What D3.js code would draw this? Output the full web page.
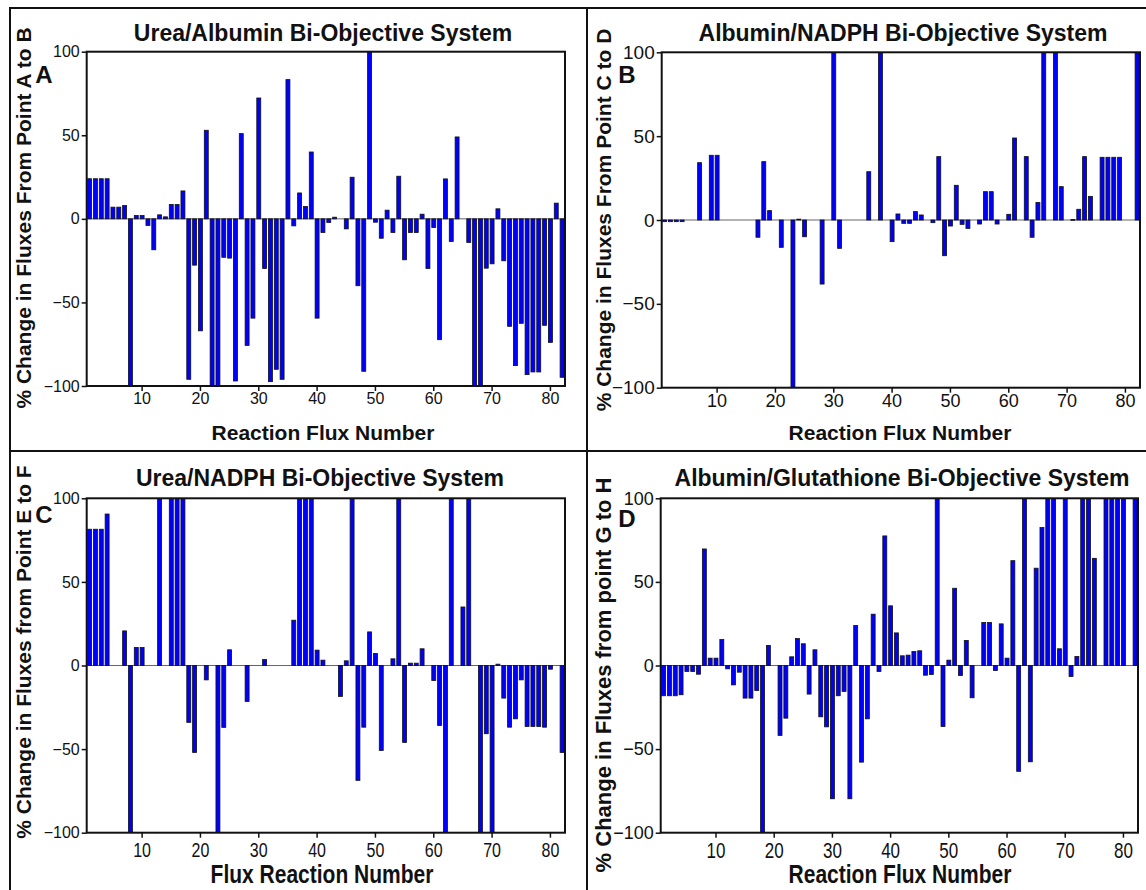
<!DOCTYPE html>
<html>
<head>
<meta charset="utf-8">
<script src="https://cdn.jsdelivr.net/npm/d3@7"></script>
<style>
  html, body { margin: 0; padding: 0; background: #fff; }
  svg { display: block; font-family: Arial, "Liberation Sans", sans-serif; }
</style>
</head>
<body>
<svg id="chart" width="1146" height="890"></svg>
<script>
// ---------------- data ----------------
const fluxNumbers = d3.range(1, 83);
const xTickValues = [10, 20, 30, 40, 50, 60, 70, 80];
const yTickValues = [-100, -50, 0, 50, 100];

const panelLetters = ["A", "B", "C", "D"];
const panelTitles = [
  "Urea/Albumin Bi-Objective System",
  "Albumin/NADPH Bi-Objective System",
  "Urea/NADPH Bi-Objective System",
  "Albumin/Glutathione Bi-Objective System"
];
const yAxisTitles = [
  "% Change in Fluxes From Point A to B",
  "% Change in Fluxes From Point C to D",
  "% Change in Fluxes from Point E to F",
  "% Change in Fluxes from point G to H"
];
const xAxisTitles = [
  "Reaction Flux Number",
  "Reaction Flux Number",
  "Flux Reaction Number",
  "Reaction Flux Number"
];

const valuesA = [
  24, 24, 24, 24, 7, 7, 8, -100, 2, 2,
  -4, -18.5, 2.4, 1.2, 8.6, 8.6, 16.7, -96, -27.7, -67,
  53, -100, -100, -23, -23.5, -97, 51, -75.7, -59.4, 72.3,
  -29.7, -97.4, -90, -96, 83.3, -4.2, 15.5, 7.4, 40, -59.4,
  -8.2, -2.2, 1, 0, -6, 24.9, -40, -91.2, 100, -2,
  -11.6, 5.2, -8.2, 25.5, -24.5, -8.2, -8.2, 2.8, -29.7, -5.2,
  -72.3, 23.9, -13.5, 49, 0, -14.1, -100, -100, -29.5, -26.9,
  6, -25.1, -64.3, -87.8, -62.5, -93.2, -91.6, -91.6, -63.7, -73.9,
  9.4, -94.8
];
const valuesB = [
  -1, -1, -1, -1, 0, 0, 34.2, 0, 38.6, 38.6,
  0, 0, 0, 0, 0, 0, -10.3, 34.8, 5.6, 0,
  -16.3, 0, -100, 0.5, -10, 0, 0, -38.2, 0, 100,
  -16.9, 0, 0, 0, 0, 28.8, 0, 100, 0, -12.9,
  3.6, -2, -2, 5, 3, 0, -1.6, 37.8, -21.3, -3.6,
  20.7, -2.6, -5, 0, -2.4, 16.9, 16.9, -2.4, 0, 3.4,
  48.9, 0, 37.8, -10.3, 10.5, 100, 0, 100, 19.9, 0,
  0.3, 6.4, 37.8, 14.1, 0, 37.4, 37.4, 37.4, 37.4, 0,
  0, 100
];
const valuesC = [
  81.5, 81.5, 81.5, 90.6, 0, 0, 20.7, -100, 10.8, 10.8,
  0, 0, 100, 0, 100, 100, 100, -34, -52, 0,
  -8.6, 0, -100, -37, 9.4, 0, 0, -21.5, 0, 0,
  3.6, 0, 0, 0, 0, 27.1, 100, 100, 100, 9.2,
  3.2, 0, 0, -18.5, 2.8, 100, -68.7, -36.9, 20.1, 7.2,
  -50.8, 0, 4, 100, -46, 1.4, 1.4, 10, 0, -9,
  -35.9, -100, 100, 0, 35, 100, 0, -100, -40.8, -100,
  0.8, -19.5, -36.9, -31.9, -8.6, -36.5, -36.5, -36.5, -36.9, -2.2,
  0, -52
];
const valuesD = [
  -18.1, -18.1, -18.1, -17.5, -3.6, -3.6, -5.2, 69.7, 4.4, 4.4,
  15.5, -2, -11.6, -4, -19.5, -19.5, -15, -100, 12, 0,
  -41.8, -31.5, 5.2, 16.1, 13, -17.1, 9.4, -30.7, -36.7, -79.7,
  -18.1, -15.5, -79.7, 23.9, -57.8, -31.9, 30.7, -3.6, 77.5, 35.7,
  19.5, 5.8, 6.2, 8.4, 8.8, -5.8, -5.4, 100, -36.5, 3.2,
  46.2, -6, 15, -19.3, 0, 25.7, 25.7, -3, 24.9, 4.4,
  62.7, -63.3, 100, -57.6, 58.2, 82.5, 100, 100, 10, 100,
  -6.6, 5.4, 100, 100, 64.1, 0, 100, 100, 100, 100,
  0, 100
];
const panelValues = [valuesA, valuesB, valuesC, valuesD];

// ---------------- layout (positions / styles only) ----------------
const layout = [
  { left: 86.7, right: 565, top: 51.7, bottom: 386,
    yTickFont: 16, xTickFont: 16, xTickPad: 2, xTickScaleY: 1,
    titleX: 323, titleY: 41, titleFont: 23,
    yTitleX: 31, yTitleY: 218, yTitleFont: 21,
    xTitleX: 323, xTitleY: 440, xTitleFont: 21, xTitleScaleY: 1,
    letterX: 44, letterY: 83 },
  { left: 661.7, right: 1140, top: 52.3, bottom: 387.7,
    yTickFont: 19, xTickFont: 18, xTickPad: 2, xTickScaleY: 1,
    titleX: 903, titleY: 41, titleFont: 23,
    yTitleX: 611, yTitleY: 220, yTitleFont: 21,
    xTitleX: 900, xTitleY: 440, xTitleFont: 21, xTitleScaleY: 1,
    letterX: 627, letterY: 83 },
  { left: 86.7, right: 565, top: 498.3, bottom: 832.7,
    yTickFont: 16, xTickFont: 16, xTickPad: 3, xTickScaleY: 1.25,
    titleX: 320, titleY: 486, titleFont: 23,
    yTitleX: 31, yTitleY: 652, yTitleFont: 21,
    xTitleX: 322, xTitleY: 883, xTitleFont: 21, xTitleScaleY: 1.2,
    letterX: 44, letterY: 523 },
  { left: 660.7, right: 1138, top: 498.3, bottom: 832.7,
    yTickFont: 18, xTickFont: 17, xTickPad: 3, xTickScaleY: 1.25,
    titleX: 902, titleY: 486, titleFont: 23,
    yTitleX: 611, yTitleY: 675, yTitleFont: 22,
    xTitleX: 900, xTitleY: 883, xTitleFont: 21, xTitleScaleY: 1.2,
    letterX: 627, letterY: 527 }
];

const svg = d3.select("#chart");
svg.append("rect").attr("width", 1146).attr("height", 890).attr("fill", "#fff");

// outer frame & dividers
const frame = svg.append("g").attr("stroke", "#111").attr("stroke-width", 2).attr("fill", "none");
frame.append("rect").attr("x", 10).attr("y", 8).attr("width", 1150).attr("height", 900);
frame.append("line").attr("x1", 587).attr("x2", 587).attr("y1", 8).attr("y2", 890);
frame.append("line").attr("x1", 10).attr("x2", 1146).attr("y1", 451).attr("y2", 451);

const defs = svg.append("defs");
const FONT = "Arial, 'Liberation Sans', sans-serif";

panelValues.forEach((vals, i) => {
  const L = layout[i];
  const g = svg.append("g");

  const x = d3.scaleBand()
    .domain(fluxNumbers)
    .range([L.left, L.right])
    .paddingInner(0.32)
    .paddingOuter(0.16);
  const y = d3.scaleLinear().domain([-100, 100]).range([L.bottom, L.top]).clamp(true);

  defs.append("clipPath").attr("id", "clip" + i)
    .append("rect").attr("x", L.left).attr("y", L.top)
    .attr("width", L.right - L.left).attr("height", L.bottom - L.top);

  // zero line
  g.append("line")
    .attr("x1", L.left).attr("x2", L.right)
    .attr("y1", y(0)).attr("y2", y(0))
    .attr("stroke", "#666").attr("stroke-width", 1);

  // bars
  g.append("g").attr("clip-path", `url(#clip${i})`)
    .selectAll("rect")
    .data(fluxNumbers.map((n, k) => ({ n, v: vals[k] })).filter(d => d.v !== 0))
    .join("rect")
    .attr("x", d => x(d.n))
    .attr("width", x.bandwidth())
    .attr("y", d => y(Math.max(0, d.v)))
    .attr("height", d => Math.max(0.8, Math.abs(y(d.v) - y(0))))
    .attr("fill", "#0000ff")
    .attr("stroke", "#111")
    .attr("stroke-width", 0.8);

  // plot box
  g.append("rect")
    .attr("x", L.left).attr("y", L.top)
    .attr("width", L.right - L.left).attr("height", L.bottom - L.top)
    .attr("fill", "none").attr("stroke", "#111").attr("stroke-width", 2);

  // axes
  const yAxis = g.append("g")
    .attr("transform", `translate(${L.left},0)`)
    .call(d3.axisLeft(y).tickValues(yTickValues).tickSize(5).tickPadding(2).tickFormat(d3.format("d")));
  yAxis.select(".domain").remove();
  yAxis.selectAll("line").attr("stroke", "#111").attr("stroke-width", 1.5);
  yAxis.selectAll("text").attr("font-size", L.yTickFont).attr("fill", "#111")
    .attr("font-family", FONT);

  const xAxis = g.append("g")
    .attr("transform", `translate(0,${L.bottom})`)
    .call(d3.axisBottom(x).tickValues(xTickValues).tickSize(5).tickPadding(L.xTickPad));
  xAxis.select(".domain").remove();
  xAxis.selectAll("line").attr("stroke", "#111").attr("stroke-width", 1.5);
  xAxis.selectAll("text").attr("font-size", L.xTickFont).attr("fill", "#111")
    .attr("font-family", FONT)
    .attr("transform", `scale(1,${L.xTickScaleY})`);

  // titles
  g.append("text")
    .attr("x", L.titleX).attr("y", L.titleY)
    .attr("text-anchor", "middle")
    .attr("font-weight", "bold").attr("font-size", L.titleFont).attr("fill", "#111")
    .text(panelTitles[i]);

  g.append("text")
    .attr("transform", `translate(${L.yTitleX},${L.yTitleY}) rotate(-90)`)
    .attr("text-anchor", "middle")
    .attr("font-weight", "bold").attr("font-size", L.yTitleFont).attr("fill", "#111")
    .text(yAxisTitles[i]);

  g.append("text")
    .attr("transform", `translate(${L.xTitleX},${L.xTitleY}) scale(1,${L.xTitleScaleY})`)
    .attr("text-anchor", "middle")
    .attr("font-weight", "bold").attr("font-size", L.xTitleFont).attr("fill", "#111")
    .text(xAxisTitles[i]);

  g.append("text")
    .attr("x", L.letterX).attr("y", L.letterY)
    .attr("text-anchor", "middle")
    .attr("font-weight", "bold").attr("font-size", 24).attr("fill", "#111")
    .text(panelLetters[i]);
});
</script>
</body>
</html>
